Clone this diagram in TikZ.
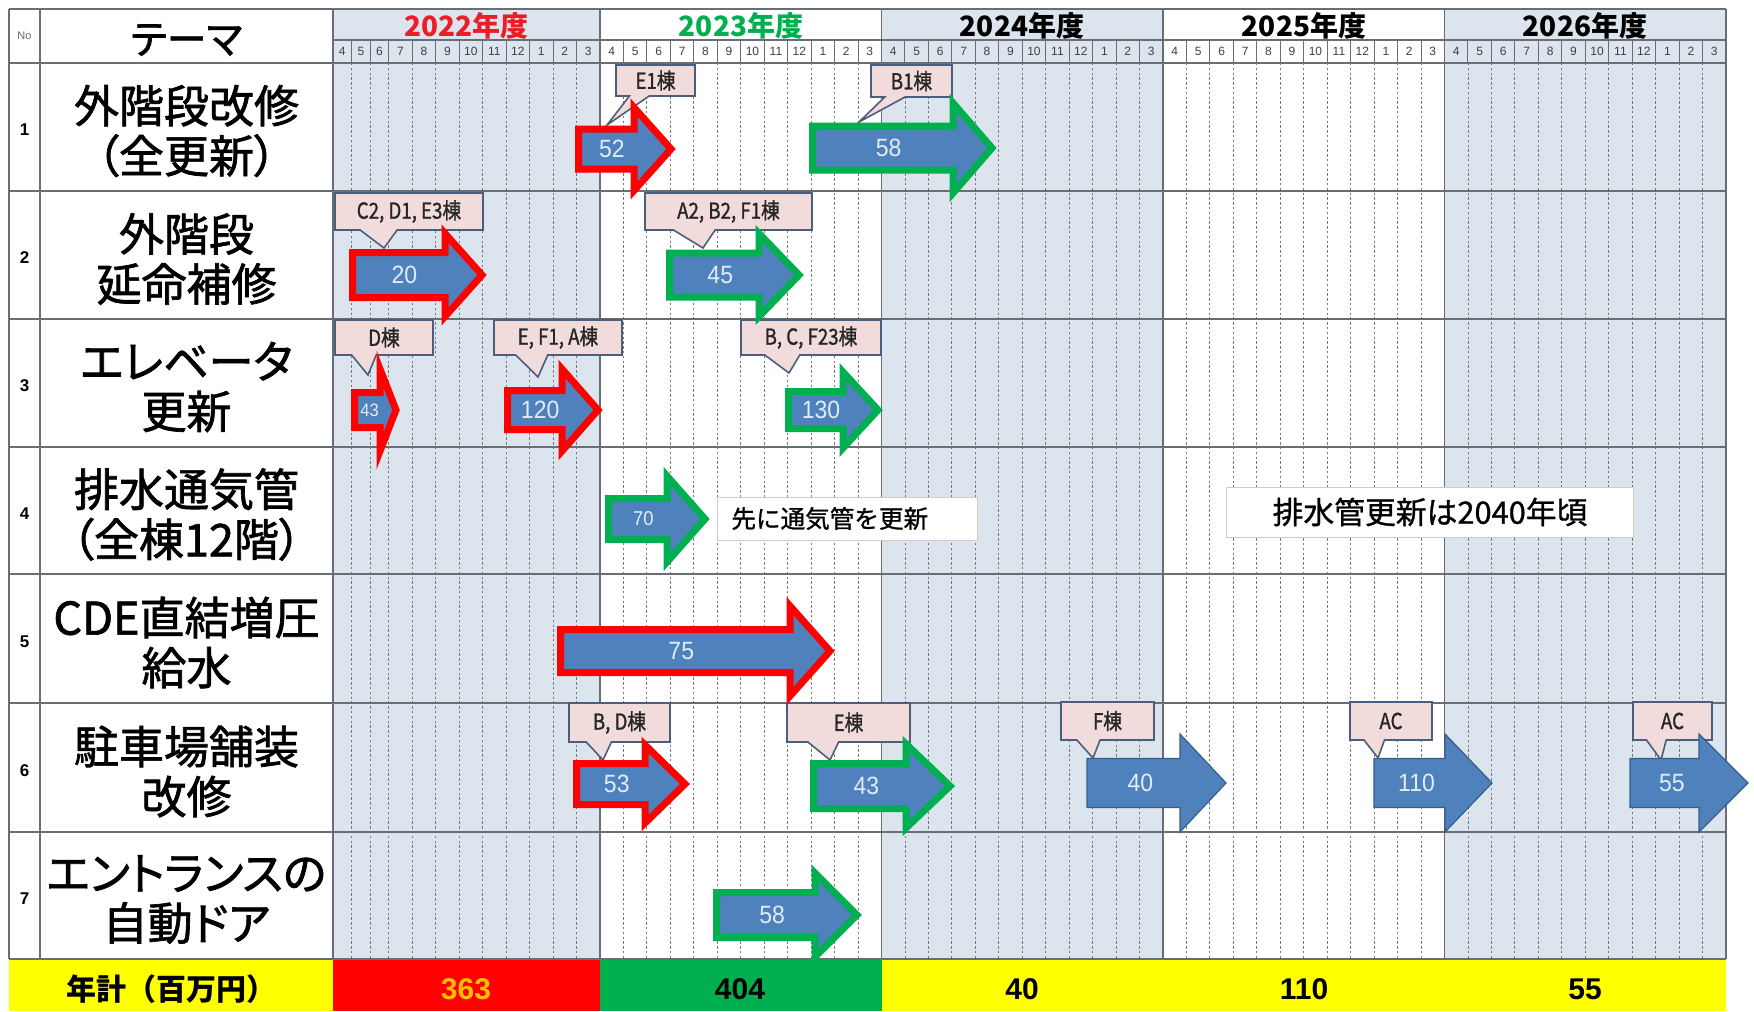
\documentclass[tikz,border=0pt]{standalone}
\usepackage{fontspec}
\setmainfont{Liberation Sans}
\newfontfamily\jp{Noto Sans CJK JP}
\newfontfamily\jpb{Noto Sans CJK JP}[FakeBold=1]
\newfontfamily\jpp{Noto Sans CJK JP}[RawFeature=+palt, FakeBold=1.5]
\newfontfamily\jpc{Noto Sans CJK JP}[FakeStretch=0.85, FakeBold=1.2]
\newfontfamily\numf{Liberation Sans}[FakeStretch=0.92]
\definecolor{colshade}{RGB}{220,228,238}
\definecolor{gridc}{RGB}{105,110,118}
\definecolor{dotc}{RGB}{120,120,120}
\definecolor{ablue}{RGB}{79,129,189}
\definecolor{ared}{RGB}{255,0,0}
\definecolor{agreen}{RGB}{0,176,80}
\definecolor{cpink}{RGB}{242,220,219}
\definecolor{cedge}{RGB}{75,95,125}
\definecolor{ydark}{RGB}{56,93,138}
\definecolor{numc}{RGB}{225,236,250}
\definecolor{tyellow}{RGB}{255,255,0}
\definecolor{torange}{RGB}{255,192,0}
\definecolor{yred}{RGB}{235,30,40}
\newcommand{\blkarrow}[9]{%
  \path[#1] (#3,{#6-#7}) -- (#4,{#6-#7}) -- (#4,{#6-#8}) -- (#5,#6) -- (#4,{#6+#8}) -- (#4,{#6+#7}) -- (#3,{#6+#7}) -- cycle;
  \node[numtxt] (#2) at ({(#3+#4)/2+0.15*(#5-#4)},#6) {#9};
}
\newcommand{\callout}[7]{%
  \draw[callbox] (#2,#3) -- (#4,#3) -- (#4,#5) -- ({#2+0.42*(#4-#2)},#5) -- #6 -- ({#2+0.17*(#4-#2)},#5) -- (#2,#5) -- cycle;
  \node[calltext] (#1) at ({(#2+#4)/2},{(#3+#5)/2}) {#7};
}
\begin{document}
\begin{tikzpicture}[x=0.5pt,y=-0.5pt,
  gridline/.style={draw=gridc, line width=0.75pt},
  dotline/.style={draw=dotc, line width=0.45pt, dash pattern=on 1.2pt off 1.2pt},
  hdrsep/.style={draw=gridc, line width=0.5pt},
  theme/.style={align=center, font=\jpp\fontsize{22.5}{25}\selectfont, inner sep=0pt},
  rownum/.style={font=\bfseries\fontsize{8.5}{8.5}\selectfont, inner sep=0pt},
  monlab/.style={font=\fontsize{6}{6}\selectfont, text=black!75, inner sep=0pt},
  yearlab/.style={font=\jp\bfseries\fontsize{14}{14}\selectfont, inner sep=0pt},
  redarr/.style={fill=ablue, draw=ared, line width=3.5pt},
  grnarr/.style={fill=ablue, draw=agreen, line width=3.5pt},
  bluarr/.style={fill=ablue, draw=ydark, line width=0.6pt},
  numtxt/.style={font=\numf\fontsize{12.5}{12.5}\selectfont, text=numc, inner sep=0pt},
  callbox/.style={fill=cpink, draw=cedge, line width=0.8pt, line join=miter},
  calltext/.style={font=\jpc\fontsize{11}{11}\selectfont, text=black!85, inner sep=0pt},
  notebox/.style={fill=white, draw=black!20, line width=0.5pt},
  totlab/.style={font=\bfseries\fontsize{15}{15}\selectfont, inner sep=0pt}
]
\useasboundingbox (0,0) rectangle (1754,1011);
\fill[white] (0,0) rectangle (1754,1011);
% shading
\fill[colshade] (333,9) rectangle (600,959);
\fill[colshade] (881.5,9) rectangle (1163,959);
\fill[colshade] (1444.5,9) rectangle (1726,959);
% total row
\fill[tyellow] (9,959) rectangle (333,1011);
\fill[ared] (333,959) rectangle (600,1011);
\fill[agreen] (600,959) rectangle (881.5,1011);
\fill[tyellow] (881.5,959) rectangle (1726,1011);
% 2022 month grid
\foreach \x in {351.6,370.2,388.8,412.3,435.7,459.2,482.6,506.1,529.5,553.0,576.5} {
  \draw[dotline] (\x,63) -- (\x,959);
  \draw[hdrsep] (\x,40) -- (\x,63);
}
\foreach \c/\l [count=\i] in {342.3/4,360.9/5,379.5/6,400.5/7,424/8,447.5/9,470.9/10,494.4/11,517.8/12,541.3/1,564.8/2,588.3/3}
  \node[monlab] (ma\i) at (\c,51.5) {\l};
% other years month grid
\foreach \s [count=\y] in {600,881.5,1163,1444.5} {
  \foreach \m in {1,...,11} {
    \draw[dotline] ({\s+\m*23.458},63) -- ({\s+\m*23.458},959);
    \draw[hdrsep] ({\s+\m*23.458},40) -- ({\s+\m*23.458},63);
  }
  \foreach \l [count=\m] in {4,5,6,7,8,9,10,11,12,1,2,3}
    \node[monlab] (m\y-\m) at ({\s+(\m-0.5)*23.458},51.5) {\l};
}
% main grid lines
\draw[gridline] (9,9) -- (1726,9);
\draw[gridline] (333,40) -- (1726,40);
\foreach \yy in {63,191,319,447,574,703,832,959}
  \draw[gridline] (9,\yy) -- (1726,\yy);
\foreach \xx in {9,40,333,600,881.5,1163,1444.5,1726}
  \draw[gridline] (\xx,9) -- (\xx,959);
% headers
\node[font=\fontsize{5.5}{5.5}\selectfont, text=black!60, inner sep=0pt] (hno) at (24.5,36) {No};
\node[font=\jpp\fontsize{20}{20}\selectfont, inner sep=0pt] (hth) at (186.5,40) {テーマ};
\node[yearlab, text=yred] (y22) at (466.5,26) {2022年度};
\node[yearlab, text=agreen] (y23) at (741,26) {2023年度};
\node[yearlab] (y24) at (1022,26) {2024年度};
\node[yearlab] (y25) at (1304,26) {2025年度};
\node[yearlab] (y26) at (1585,26) {2026年度};
% themes
\node[theme] (t1) at (186.5,131) {外階段改修\\（全更新）};
\node[theme] (t2) at (186.5,259) {外階段\\延命補修};
\node[theme] (t3) at (186.5,387) {エレベータ\\更新};
\node[theme] (t4) at (186.5,514.5) {排水通気管\\（全棟12階）};
\node[theme] (t5) at (186.5,642.5) {CDE直結増圧\\給水};
\node[theme] (t6) at (186.5,771.5) {駐車場舗装\\改修};
\node[theme] (t7) at (186.5,899.5) {エントランスの\\自動ドア};
\foreach \r/\yc in {1/130,2/258,3/386,4/513.5,5/641.5,6/770.5,7/898.5}
  \node[rownum] (r\r) at (24.5,\yc) {\r};
% row 4 notes
\draw[notebox] (717,497) rectangle (977,540);
\node[font=\jpb\fontsize{12.3}{12.3}\selectfont, inner sep=0pt, anchor=west] (n1) at (731,518.5) {先に通気管を更新};
\draw[notebox] (1226,487) rectangle (1633,537);
\node[font=\jpb\fontsize{15.4}{15.4}\selectfont, inner sep=0pt] (n2) at (1430,512) {排水管更新は2040年頃};
% callouts
\callout{c1}{616}{65}{695}{96}{(607,125)}{E1棟}
\callout{c2}{871}{65}{952}{97}{(859,122)}{B1棟}
\callout{c3}{335}{193}{483}{230}{(384,248)}{C2, D1, E3棟}
\callout{c4}{645}{193}{812}{230}{(703,248)}{A2, B2, F1棟}
\callout{c5}{335}{320}{433}{355}{(368,375)}{D棟}
\callout{c6}{494}{320}{622}{355}{(538,377)}{E, F1, A棟}
\callout{c7}{741}{320}{881}{355}{(789,373)}{B, C, F23棟}
\callout{c8}{569}{703}{670}{742}{(603,760)}{B, D棟}
\callout{c9}{787}{703}{910}{742}{(830,760)}{E棟}
\callout{c10}{1061}{702}{1154}{740}{(1093,758)}{F棟}
\callout{c11}{1350}{702}{1432}{740}{(1378,758)}{AC}
\callout{c12}{1633}{702}{1712}{740}{(1661,760)}{AC}
% arrows
\blkarrow{redarr}{a52}{578.5}{634}{671}{149}{20}{41.5}{52}
\blkarrow{grnarr}{a58}{812.5}{953}{992}{148}{22}{45}{58}
\blkarrow{redarr}{a20}{352.5}{445}{482}{275}{22.5}{41.5}{20}
\blkarrow{grnarr}{a45}{669.5}{759}{799}{275}{22}{41.5}{45}
\blkarrow{redarr}{a43}{354.5}{380}{396}{410}{17.5}{41}{\fontsize{9}{9}\selectfont 43}
\blkarrow{redarr}{a120}{507.5}{562}{598}{410}{19.5}{41}{120}
\blkarrow{grnarr}{a130}{788.5}{843}{878}{410}{18.5}{38}{130}
\blkarrow{grnarr}{a70}{608.5}{667}{705}{519}{20.5}{43}{\fontsize{10}{10}\selectfont 70}
\blkarrow{redarr}{a75}{560.5}{790}{830}{651}{21.5}{45}{75}
\blkarrow{redarr}{a53}{576.5}{645}{685}{784}{20.5}{39}{53}
\blkarrow{grnarr}{a43b}{813.5}{906}{950}{786}{22.5}{42}{43}
\blkarrow{bluarr}{a40}{1087}{1180}{1226}{783}{24.5}{49}{40}
\blkarrow{bluarr}{a110}{1374}{1445}{1492}{783}{24.5}{49}{110}
\blkarrow{bluarr}{a55}{1630}{1699}{1748}{783}{24.5}{49}{55}
\blkarrow{grnarr}{a58b}{716.5}{815}{857}{915}{22.5}{42}{58}
% totals
\node[font=\jp\bfseries\fontsize{15}{15}\selectfont, inner sep=0pt] (tl) at (171,989) {年計（百万円）};
\node[totlab, text=torange] (t22) at (466,989) {363};
\node[totlab] (t23) at (740,989) {404};
\node[totlab] (t24) at (1022,989) {40};
\node[totlab] (t25) at (1304,989) {110};
\node[totlab] (t26) at (1585,989) {55};
\end{tikzpicture}
\end{document}
